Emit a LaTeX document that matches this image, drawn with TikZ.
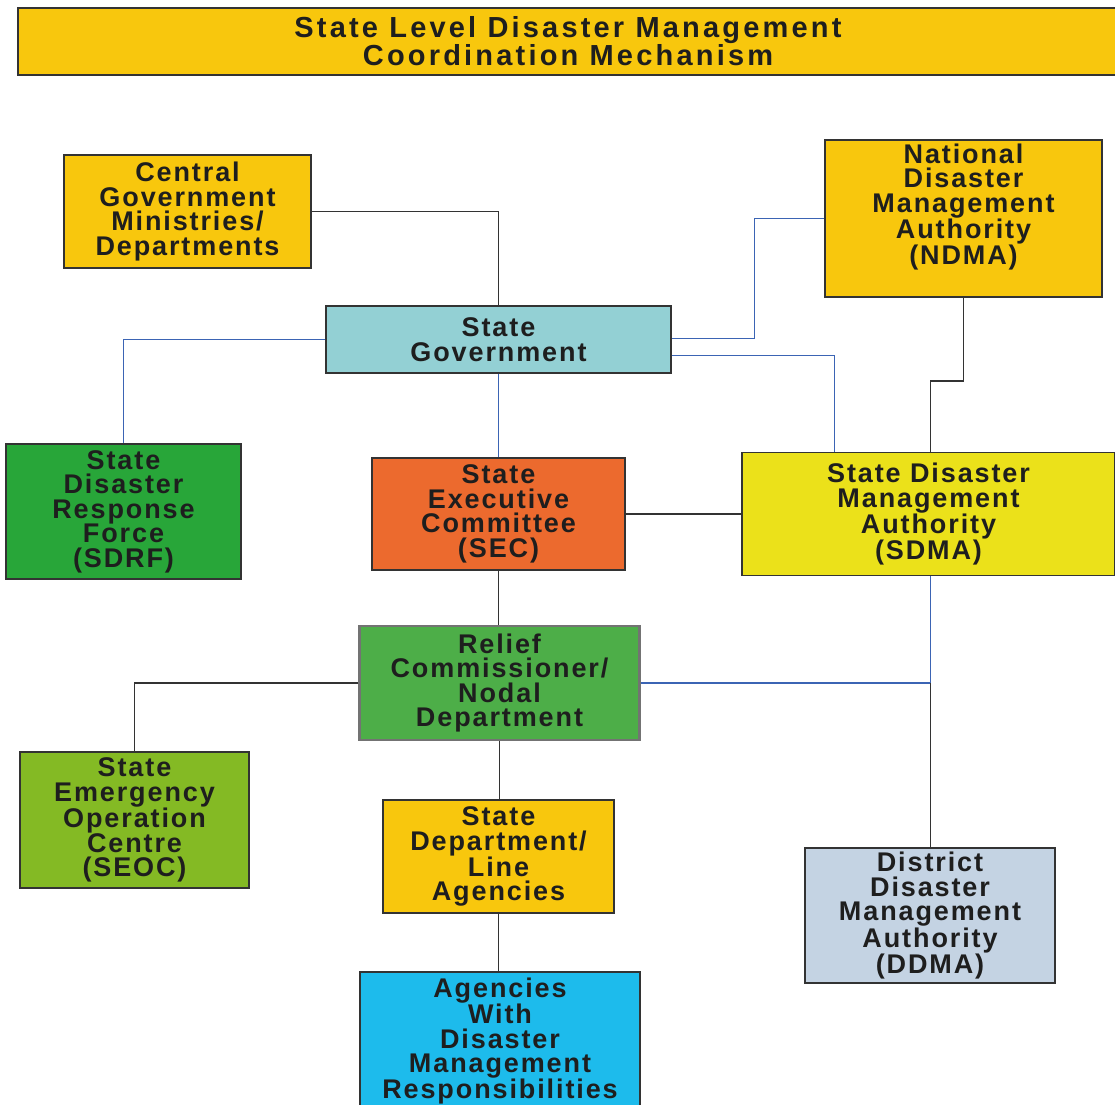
\documentclass[tikz,border=0pt]{standalone}
\usepackage{fontspec}
\setmainfont{Liberation Sans}[LetterSpace=7]
\usepackage{xcolor}
\definecolor{gold}{HTML}{F8C70D}
\definecolor{teal}{HTML}{93D0D4}
\definecolor{forest}{HTML}{28A639}
\definecolor{tangerine}{HTML}{EC6A2E}
\definecolor{lemon}{HTML}{EBE11A}
\definecolor{grass}{HTML}{4DAE48}
\definecolor{lime}{HTML}{84BA24}
\definecolor{steel}{HTML}{C4D3E3}
\definecolor{sky}{HTML}{1DBBEC}
\definecolor{wire}{HTML}{3B64B4}
\definecolor{ink}{HTML}{1E1E1E}

\begin{document}
\begin{tikzpicture}[x=1pt,y=-1pt,
		box/.style={draw=black!80,line width=1.3pt,align=center,inner sep=0pt,
			text=ink,font=\bfseries\fontsize{27}{24.5}\selectfont},
		blk/.style={draw=black!80,line width=1.7pt},
		blu/.style={draw=wire,line width=1.5pt}]
		\useasboundingbox (0,0) rectangle (1115,1104);
		\node [box,fill=gold,minimum width=1100,minimum height=67,
			font=\bfseries\fontsize{29}{28}\selectfont\addfontfeature{LetterSpace=11}] (title) at (568,41.5)
			{State Level Disaster Management\\Coordination Mechanism};
		\node [box,fill=gold,minimum width=247,minimum height=113] (cgm) at (187.5,211.5)
			{Central\\Government\\Ministries/\\Departments};
		\node [box,fill=gold,minimum width=277,minimum height=157] (ndma) at (963.5,218.5)
			{National\\Disaster\\Management\\Authority\\(NDMA)\\[4pt]};
		\node [box,fill=teal,minimum width=345,minimum height=67] (sg) at (498.5,339.5)
			{State\\Government};
		\node [box,fill=forest,minimum width=235,minimum height=135] (sdrf) at (123.5,511.5)
			{State\\Disaster\\Response\\Force\\(SDRF)};
		\node [box,fill=tangerine,minimum width=253,minimum height=112] (sec) at (498.5,514)
			{State\\Executive\\Committee\\(SEC)};
		\node [box,fill=lemon,minimum width=373,minimum height=123] (sdma) at (928.5,514)
			{State Disaster\\Management\\Authority\\(SDMA)};
		\node [box,fill=grass,draw=black!55,line width=2.4pt,minimum width=280,minimum height=114] (rc) at (499.5,683)
			{Relief\\Commissioner/\\Nodal\\Department};
		\node [box,fill=lime,minimum width=229,minimum height=136] (seoc) at (134.5,820)
			{State\\Emergency\\Operation\\Centre\\(SEOC)};
		\node [box,fill=gold,minimum width=231,minimum height=113] (sdl) at (498.5,856.5)
			{State\\Department/\\Line\\Agencies};
		\node [box,fill=steel,minimum width=250,minimum height=135] (ddma) at (930,915.5)
			{District\\Disaster\\Management\\Authority\\(DDMA)};
		\node [box,fill=sky,minimum width=280,minimum height=138] (awd) at (500,1041)
			{Agencies\\With\\Disaster\\Management\\Responsibilities};

		\draw [blk] (cgm.east) -| (sg.north);
		\draw [blu] (ndma.west) -- ++(-70,0) |- ([yshift=1pt]sg.east);
		\draw [blu] ([yshift=-16pt]sg.east) -| ([xshift=-94pt]sdma.north);
		\draw [blu] (sg.west) -| (sdrf.north);
		\draw [blu] (sg.south) -- (sec.north);
		\draw [blk] (ndma.south) -- ++(0,83) -| ([xshift=2pt]sdma.north);
		\draw [blk] (sec.east) -- (sdma.west);
		\draw [blk] (sec.south) -- (sec.south |- rc.north);
		\draw [blk] (rc.west) -| (seoc.north);
		\coordinate (jn) at ([xshift=2pt]sdma.south |- rc.east);
		\draw [blu] (rc.east) -- (jn);
		\draw [blu] ([xshift=2pt]sdma.south) -- (jn);
		\draw [blk] (jn) -- (jn |- ddma.north);
		\draw [blk] (rc.south) -- (rc.south |- sdl.north);
		\draw [blk] (sdl.south) -- (sdl.south |- awd.north);
\end{tikzpicture}
\end{document}
